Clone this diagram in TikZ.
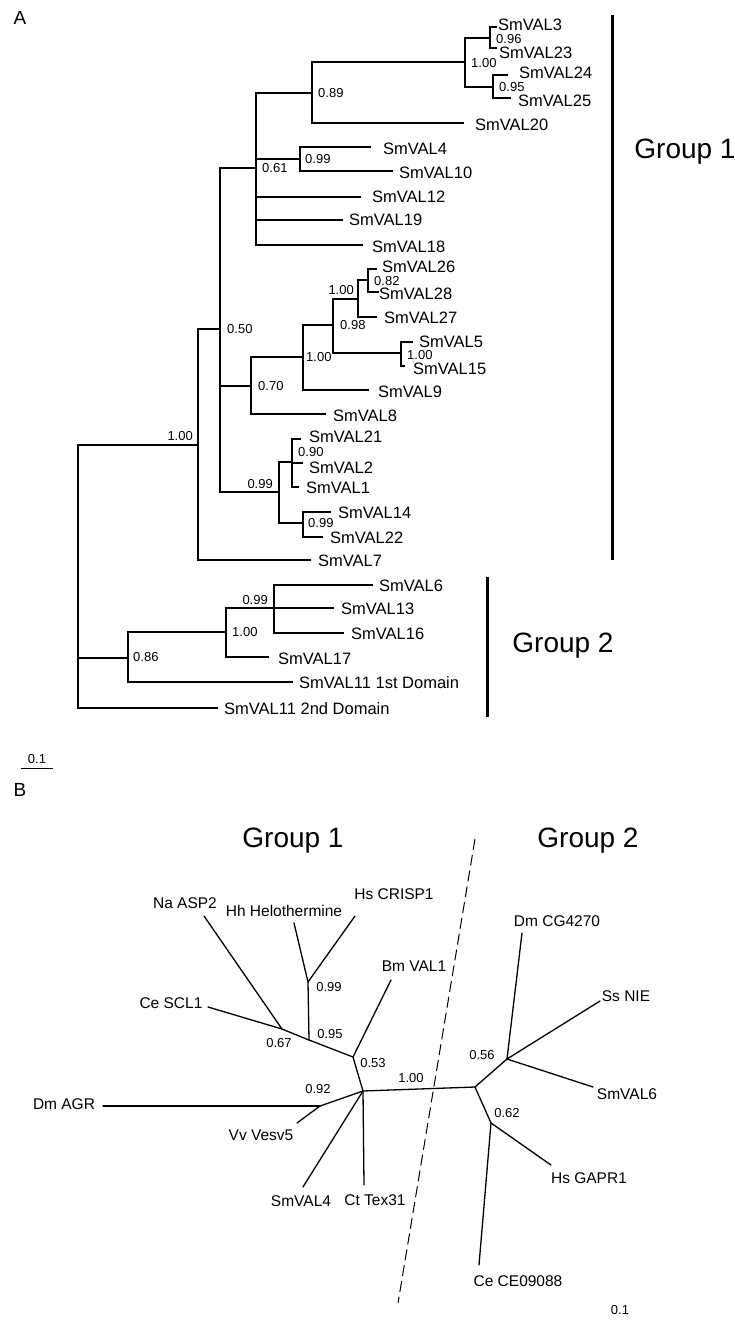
\documentclass[tikz,border=0pt]{standalone}
\usepackage{fontspec}
\setmainfont{Liberation Sans}
\begin{document}
\begin{tikzpicture}[x=1pt,y=-1pt,
 tr/.style={line width=1.8pt, line cap=rect},
 ut/.style={line width=1.3pt, line cap=round},
 lf/.style={font=\fontsize{16.5}{18}\selectfont, inner sep=0pt, anchor=west, text height=11.9pt, text depth=0pt},
 lb/.style={font=\fontsize{15.5}{18}\selectfont, inner sep=0pt, text height=11.2pt, text depth=0pt},
 sp/.style={font=\fontsize{13}{15}\selectfont, inner sep=0pt, text height=9.4pt, text depth=0pt},
 grp/.style={font=\fontsize{28}{32}\selectfont, inner sep=0pt, text height=20pt, text depth=0pt},
 bar/.style={line width=3pt},
 pl/.style={font=\fontsize{19}{21}\selectfont, inner sep=0pt, text height=13.6pt, text depth=0pt}]
\useasboundingbox (0,0) rectangle (734,1322);

% ---------------- Panel A ----------------
\node[pl] (pA) at (20,18) {A};

\coordinate (r0) at (78,576);
\coordinate (a100) at (198,445);
\coordinate (a50) at (220,329);
\coordinate (a61) at (256,168);
\coordinate (a89) at (312,93);
\coordinate (a100b) at (465,62);
\coordinate (a96) at (490,38);
\coordinate (a95) at (493,87);
\coordinate (a99b) at (300,159);
\coordinate (a70) at (251,386);
\coordinate (a100c) at (303,357);
\coordinate (a98) at (333,325);
\coordinate (a100d) at (358,299);
\coordinate (a82) at (368,280);
\coordinate (a100e) at (401,353);
\coordinate (a99a) at (279,492);
\coordinate (a90) at (292,462);
\coordinate (a99c) at (303,523);
\coordinate (a86) at (128,658);
\coordinate (a100f) at (226,632);
\coordinate (a99d) at (274,608);

\coordinate (t3) at (496,27);
\coordinate (t23) at (496,48);
\coordinate (t24) at (507,75);
\coordinate (t25) at (510,98);
\coordinate (t20) at (463,123);
\coordinate (t4) at (370,147);
\coordinate (t10) at (392,171);
\coordinate (t12) at (360,197);
\coordinate (t19) at (342,220);
\coordinate (t18) at (362,245);
\coordinate (t26) at (376,269);
\coordinate (t28) at (378,292);
\coordinate (t27) at (376,317);
\coordinate (t5) at (412,342);
\coordinate (t15) at (404,366);
\coordinate (t9) at (368,390);
\coordinate (t8) at (325,414);
\coordinate (t21) at (300,439);
\coordinate (t2) at (302,463);
\coordinate (t1) at (298,487);
\coordinate (t14) at (330,512);
\coordinate (t22) at (322,537);
\coordinate (t7) at (310,560);
\coordinate (t6) at (372,585);
\coordinate (t13) at (333,608);
\coordinate (t16) at (343,633);
\coordinate (t17) at (268,657);
\coordinate (t11a) at (292,682);
\coordinate (t11b) at (217,708);

% vertical lines
\foreach \n/\a/\b in {r0/a100/t11b, a100/a50/t7, a50/a61/a99a, a61/a89/t18,
  a89/a100b/t20, a100b/a96/a95, a96/t3/t23, a95/t24/t25, a99b/t4/t10,
  a70/a100c/t8, a100c/a98/t9, a98/a100d/a100e, a100d/a82/t27, a82/t26/t28,
  a100e/t5/t15, a99a/a90/a99c, a90/t21/t1, a99c/t14/t22, a86/a100f/t11a,
  a100f/a99d/t17, a99d/t6/t16}
  \draw[tr] (\n |- \a) -- (\n |- \b);

% horizontal lines
\foreach \p/\c in {r0/a100, r0/a86, r0/t11b, a100/a50, a100/t7,
  a50/a61, a50/a70, a50/a99a, a61/a89, a61/a99b, a61/t12, a61/t19, a61/t18,
  a89/a100b, a89/t20, a100b/a96, a100b/a95, a96/t3, a96/t23, a95/t24, a95/t25,
  a99b/t4, a99b/t10, a70/a100c, a70/t8, a100c/a98, a100c/t9, a98/a100d, a98/a100e,
  a100d/a82, a100d/t27, a82/t26, a82/t28, a100e/t5, a100e/t15,
  a99a/a90, a99a/a99c, a90/t21, a90/t2, a90/t1, a99c/t14, a99c/t22,
  a86/a100f, a86/t11a, a100f/a99d, a100f/t17, a99d/t6, a99d/t13, a99d/t16}
  \draw[tr] (\p |- \c) -- (\c);

% leaf labels
\node[lf] (l3) at (498,25) {SmVAL3};
\node[lf] (l23) at (499,53) {SmVAL23};
\node[lf] (l24) at (519,73) {SmVAL24};
\node[lf] (l25) at (518,101) {SmVAL25};
\node[lf] (l20) at (475,125) {SmVAL20};
\node[lf] (l4) at (383,149) {SmVAL4};
\node[lf] (l10) at (399,173) {SmVAL10};
\node[lf] (l12) at (372,197) {SmVAL12};
\node[lf] (l19) at (349,220) {SmVAL19};
\node[lf] (l18) at (372,247) {SmVAL18};
\node[lf] (l26) at (382,267) {SmVAL26};
\node[lf] (l28) at (379,294) {SmVAL28};
\node[lf] (l27) at (384,318) {SmVAL27};
\node[lf] (l5) at (419,342) {SmVAL5};
\node[lf] (l15) at (413,369) {SmVAL15};
\node[lf] (l9) at (378,392) {SmVAL9};
\node[lf] (l8) at (333,416) {SmVAL8};
\node[lf] (l21) at (309,437) {SmVAL21};
\node[lf] (l2) at (309,468) {SmVAL2};
\node[lf] (l1) at (306,488) {SmVAL1};
\node[lf] (l14) at (338,513) {SmVAL14};
\node[lf] (l22) at (330,538) {SmVAL22};
\node[lf] (l7) at (318,561) {SmVAL7};
\node[lf] (l6) at (379,586) {SmVAL6};
\node[lf] (l13) at (341,609) {SmVAL13};
\node[lf] (l16) at (351,634) {SmVAL16};
\node[lf] (l17) at (278,659) {SmVAL17};
\node[lf] (l11a) at (299,683) {SmVAL11 1st Domain};
\node[lf] (l11b) at (224,709) {SmVAL11 2nd Domain};

% support values
\node[sp, anchor=west] (s89) at (318,93) {0.89};
\node[sp, anchor=west] (s61) at (262,168) {0.61};
\node[sp, anchor=west] (s99b) at (305,159) {0.99};
\node[sp, anchor=west] (s96) at (496,39) {0.96};
\node[sp, anchor=west] (s100b) at (471,63) {1.00};
\node[sp, anchor=west] (s95) at (499,87) {0.95};
\node[sp, anchor=west] (s50) at (227,329) {0.50};
\node[sp, anchor=east] (s100a) at (193,436) {1.00};
\node[sp, anchor=west] (s70) at (258,386) {0.70};
\node[sp, anchor=west] (s100c) at (306,357) {1.00};
\node[sp, anchor=west] (s98) at (340,325) {0.98};
\node[sp, anchor=east] (s100d) at (354,290) {1.00};
\node[sp, anchor=west] (s82) at (374,281) {0.82};
\node[sp, anchor=west] (s100e) at (407,355) {1.00};
\node[sp, anchor=east] (s99a) at (273,484) {0.99};
\node[sp, anchor=west] (s90) at (298,452) {0.90};
\node[sp, anchor=west] (s99c) at (308,523) {0.99};
\node[sp, anchor=west] (s86) at (133,657) {0.86};
\node[sp, anchor=west] (s100f) at (232,632) {1.00};
\node[sp, anchor=east] (s99d) at (268,600) {0.99};

% group bars
\coordinate (g1t) at (612,15);
\coordinate (g1b) at (612,560);
\coordinate (g2t) at (487,577);
\coordinate (g2b) at (487,717);
\draw[bar] (g1t) -- (g1b);
\draw[bar] (g2t) -- (g2b);
\node[grp] (G1a) at (685,148) {Group 1};
\node[grp] (G2a) at (563,642) {Group 2};

% scale bar A
\coordinate (sbl) at (21,768);
\coordinate (sbr) at (53,768);
\draw[line width=1pt] (sbl) -- (sbr);
\node[sp] (sbA) at (37,759) {0.1};

% ---------------- Panel B ----------------
\node[pl] (pB) at (20,790) {B};
\node[grp] (G1b) at (293,837) {Group 1};
\node[grp] (G2b) at (588,837) {Group 2};

\coordinate (dtop) at (475,839);
\coordinate (dbot) at (398,1303);
\draw[line width=1pt, dash pattern=on 11pt off 5pt] (dtop) -- (dbot);

\coordinate (C) at (363,1091);
\coordinate (R) at (475,1087);
\coordinate (N53) at (353,1057);
\coordinate (N95) at (309,1040);
\coordinate (N67) at (282,1029);
\coordinate (N99) at (308,982);
\coordinate (N92) at (320,1106);
\coordinate (N56) at (507,1059);
\coordinate (N62) at (491,1123);

\coordinate (eBm) at (391,980);
\coordinate (eHh) at (294,923);
\coordinate (eHs) at (355,916);
\coordinate (eNa) at (204,916);
\coordinate (eCe) at (208,1007);
\coordinate (eDm) at (103,1106);
\coordinate (eVv) at (297,1123);
\coordinate (eSm4) at (303,1187);
\coordinate (eCt) at (364,1185);
\coordinate (eDmC) at (522,933);
\coordinate (eSs) at (600,1001);
\coordinate (eSm6) at (593,1087);
\coordinate (eHsG) at (551,1165);
\coordinate (eCeC) at (479,1265);

\foreach \a/\b in {C/R, C/N53, N53/N95, N95/N67, N67/eNa, N67/eCe, N95/N99,
  N99/eHh, N99/eHs, N53/eBm, C/N92, N92/eDm, N92/eVv, C/eSm4, C/eCt,
  R/N56, R/N62, N56/eDmC, N56/eSs, N56/eSm6, N62/eHsG, N62/eCeC}
  \draw[ut] (\a) -- (\b);

\node[lb] (bNa) at (185,903) {Na ASP2};
\node[lb] (bHh) at (284,911) {Hh Helothermine};
\node[lb] (bHs) at (394,894) {Hs CRISP1};
\node[lb] (bBm) at (414,966) {Bm VAL1};
\node[lb] (bCe) at (171,1003) {Ce SCL1};
\node[lb] (bDm) at (64,1104) {Dm AGR};
\node[lb] (bVv) at (261,1135) {Vv Vesv5};
\node[lb] (bSm4) at (301,1201) {SmVAL4};
\node[lb] (bCt) at (375,1200) {Ct Tex31};
\node[lb] (bDmC) at (557,921) {Dm CG4270};
\node[lb] (bSs) at (626,996) {Ss NIE};
\node[lb] (bSm6) at (627,1094) {SmVAL6};
\node[lb] (bHsG) at (589,1178) {Hs GAPR1};
\node[lb] (bCeC) at (518,1281) {Ce CE09088};

\node[sp] (b99) at (329,987) {0.99};
\node[sp] (b95) at (330,1034) {0.95};
\node[sp] (b67) at (279,1043) {0.67};
\node[sp] (b53) at (373,1063) {0.53};
\node[sp] (b100) at (411,1078) {1.00};
\node[sp] (b92) at (318,1089) {0.92};
\node[sp] (b56) at (482,1055) {0.56};
\node[sp] (b62) at (507,1113) {0.62};
\node[sp] (sbB) at (620,1310) {0.1};
\end{tikzpicture}
\end{document}
